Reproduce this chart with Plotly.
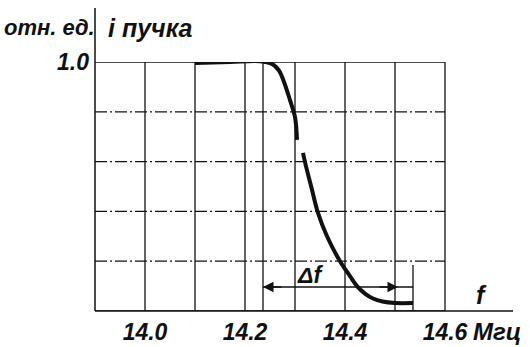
import plotly.graph_objects as go

# Curve: beam current (relative units) vs frequency (MHz); None = gap in the drawn line
freq = [14.10, 14.17, 14.22, 14.24, 14.256, 14.268, 14.278, 14.29, 14.30, 14.304, None,
        14.316, 14.32, 14.333, 14.346, 14.364, 14.39, 14.41, 14.424, 14.44, 14.456, 14.475, 14.50, 14.536]
level = [0.996, 1.0, 1.004, 1.0, 0.99, 0.965, 0.92, 0.847, 0.779, 0.687, None,
         0.635, 0.598, 0.495, 0.394, 0.300, 0.200, 0.140, 0.100, 0.070, 0.050, 0.038, 0.032, 0.032]

x_grid = [13.9, 14.0, 14.1, 14.2, 14.3, 14.4, 14.5, 14.6]
y_grid = [0.0, 0.2, 0.4, 0.6, 0.8, 1.0]
x_tickvals = [14.0, 14.2, 14.4, 14.6]
x_ticktext = ["14.0", "14.2", "14.4", "14.6"]
y_tickvals = [1.0]
y_ticktext = ["1.0"]

df_left = 14.236
df_right = 14.536
df_level = 0.096

FONT = "Liberation Sans"
INK = "#111111"

fig = go.Figure()
fig.add_trace(go.Scatter(x=freq, y=level, mode="lines",
                         line=dict(color=INK, width=4, shape="spline", smoothing=1.0),
                         connectgaps=False, hoverinfo="skip", showlegend=False))

shapes = []
for xv in x_grid[1:]:
    shapes.append(dict(type="line", xref="x", yref="y", x0=xv, x1=xv, y0=0, y1=1.0,
                       line=dict(color=INK, width=1.3), layer="below"))
for yv in y_grid:
    dash = "solid" if yv in (0.0, 1.0) else "12px,3px,2px,3px"
    shapes.append(dict(type="line", xref="x", yref="y", x0=x_grid[0], x1=x_grid[-1], y0=yv, y1=yv,
                       line=dict(color=INK, width=1.3, dash=dash), layer="below"))
shapes.append(dict(type="line", xref="paper", yref="paper", x0=0, x1=0, y0=0, y1=1.217,
                   line=dict(color=INK, width=1.5)))
shapes.append(dict(type="line", xref="paper", yref="paper", x0=0, x1=1, y0=0, y1=0,
                   line=dict(color=INK, width=1.5)))
shapes.append(dict(type="line", xref="x", yref="y", x0=df_left, x1=df_left, y0=0, y1=1.0,
                   line=dict(color=INK, width=1.3)))
shapes.append(dict(type="line", xref="x", yref="y", x0=df_right, x1=df_right, y0=0, y1=0.185,
                   line=dict(color=INK, width=1.3)))
shapes.append(dict(type="line", xref="x", yref="y", x0=df_left, x1=df_right, y0=df_level, y1=df_level,
                   line=dict(color=INK, width=1.5)))


def label(text, x, y, xref, yref, size):
    return dict(x=x, y=y, xref=xref, yref=yref, text=text, showarrow=False,
                xanchor="center", yanchor="middle",
                font=dict(family=FONT, size=size, color=INK, style="italic", weight="bold"))


annotations = [
    dict(x=df_left, y=df_level, ax=df_left + 0.04, ay=df_level, xref="x", yref="y",
         axref="x", ayref="y", text="", showarrow=True, arrowhead=2, arrowsize=1.4,
         arrowwidth=1.5, arrowcolor=INK),
    dict(x=14.506, y=df_level, ax=14.466, ay=df_level, xref="x", yref="y",
         axref="x", ayref="y", text="", showarrow=True, arrowhead=2, arrowsize=1.4,
         arrowwidth=1.5, arrowcolor=INK),
    label("Δf", 14.33, 0.145, "x", "y", 23),
    label("f", 14.672, 0.064, "x", "y", 25),
    label("Мгц", 0.962, -0.084, "paper", "paper", 24),
    label("отн. ед.", -0.108, 1.137, "paper", "paper", 22),
    label("i пучка", 0.132, 1.137, "paper", "paper", 25),
]

fig.update_layout(
    width=530, height=347,
    margin=dict(l=95, r=17, t=62, b=36, autoexpand=False),
    paper_bgcolor="white", plot_bgcolor="white",
    shapes=shapes, annotations=annotations, showlegend=False,
    xaxis=dict(range=[13.9, 14.736], showgrid=False, zeroline=False, showline=False,
               tickvals=x_tickvals, ticktext=x_ticktext, ticks="", automargin=False,
               ticklabelstandoff=5,
               tickfont=dict(family=FONT, size=23, color=INK, style="italic", weight="bold")),
    yaxis=dict(range=[0, 1.0], showgrid=False, zeroline=False, showline=False,
               tickvals=y_tickvals, ticktext=y_ticktext, ticks="", ticklabelstandoff=5,
               automargin=False,
               tickfont=dict(family=FONT, size=23, color=INK, style="italic", weight="bold")),
)

fig.write_html("out.html", config={"displayModeBar": False},
               post_script="document.body.style.margin='0px';document.body.style.overflow='hidden';")
